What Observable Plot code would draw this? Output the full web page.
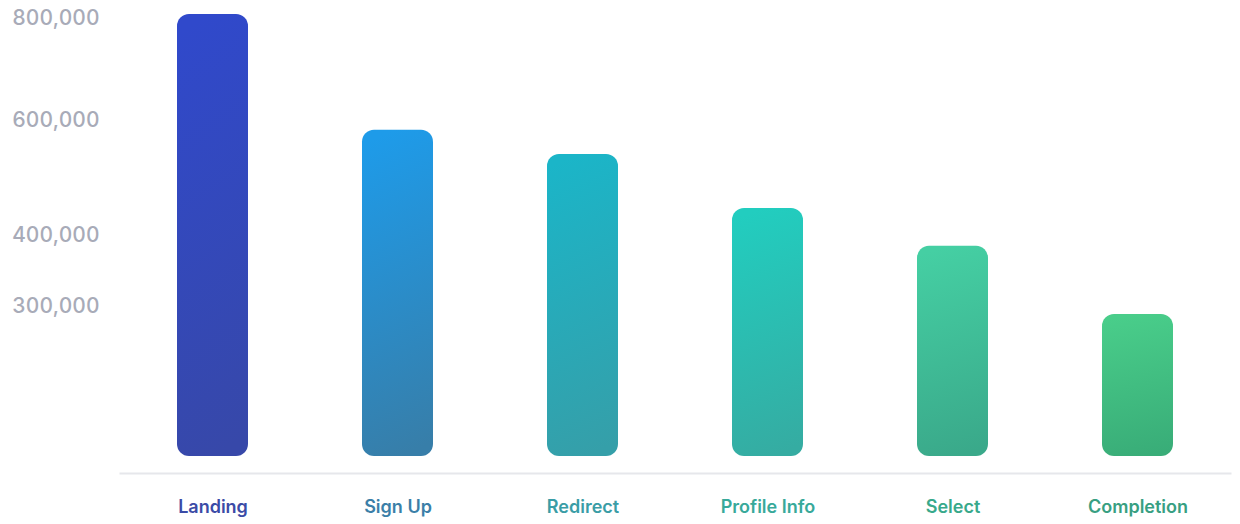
<!DOCTYPE html>
<html>
<head>
<meta charset="utf-8">
<script src="https://cdn.jsdelivr.net/npm/d3@7"></script>
<script src="https://cdn.jsdelivr.net/npm/@observablehq/plot@0.6"></script>
<style>
  html, body { margin: 0; padding: 0; background: #ffffff; }
  #chart svg { display: block; font-family: Inter, "Noto Sans", sans-serif; }
</style>
</head>
<body>
<div id="chart"></div>
<script>
// Funnel stages and values
const stages = ["Landing", "Sign Up", "Redirect", "Profile Info", "Select", "Completion"];
const values = [807000, 583000, 541000, 447000, 385000, 284000];

// Y tick labels shown in the chart
const yTicks = [300000, 400000, 600000, 800000];

// Colours: gradient top / bottom for each bar, label colour
const topColors = ["#3049cb", "#1e9be9", "#1bb5c8", "#22cdbf", "#45cfa3", "#49cd8a"];
const bottomColors = ["#3748a9", "#377ea9", "#359fa9", "#35aca2", "#3aa98a", "#39ad78"];
const labelColors = ["#3b4ba6", "#3b7fa8", "#3a9da6", "#38a99a", "#38a98b", "#389f82"];

const data = stages.map((s, i) => ({stage: s, value: values[i], idx: i}));

const W = 1240, H = 524;

const plot = Plot.plot({
  width: W,
  height: H,
  marginLeft: 120,
  marginRight: 10,
  marginTop: 0,
  marginBottom: 51,
  style: {fontFamily: "Inter, 'Noto Sans', sans-serif", background: "#ffffff"},
  x: {domain: stages, padding: 0, axis: null},
  y: {
    type: "linear",
    domain: [0, 300000, 400000, 600000, 800000],
    range: [456, 306, 235, 120, 17.5],
    axis: null
  },
  color: {type: "identity"},
  marks: [
    Plot.frame({anchor: "bottom", stroke: "#e6e7eb", strokeWidth: 2}),
    Plot.barY(data, {
      x: "stage",
      y: "value",
      fill: d => `url(#grad-${d.idx})`,
      insetLeft: 57,
      insetRight: 57,
      rx: 12,
      ry: 12
    }),
    Plot.axisY({
      ticks: yTicks,
      tickFormat: d3.format(","),
      tickSize: 0,
      tickPadding: 21,
      fontSize: 21,
      fontWeight: 500,
      fill: "#a8abb8",
      stroke: null,
      label: null
    }),
    Plot.text(data, {
      x: "stage",
      text: "stage",
      frameAnchor: "bottom",
      dy: 34,
      lineAnchor: "middle",
      fontSize: 18,
      fontWeight: 600,
      fill: d => labelColors[d.idx]
    })
  ]
});

// gradient definitions
const svg = d3.select(plot);
const defs = svg.insert("defs", ":first-child");
topColors.forEach((c, i) => {
  const g = defs.append("linearGradient")
    .attr("id", `grad-${i}`)
    .attr("x1", "0.45").attr("y1", "0")
    .attr("x2", "0.55").attr("y2", "1");
  g.append("stop").attr("offset", "0%").attr("stop-color", c);
  g.append("stop").attr("offset", "100%").attr("stop-color", bottomColors[i]);
});

document.getElementById("chart").appendChild(plot);
</script>
</body>
</html>
